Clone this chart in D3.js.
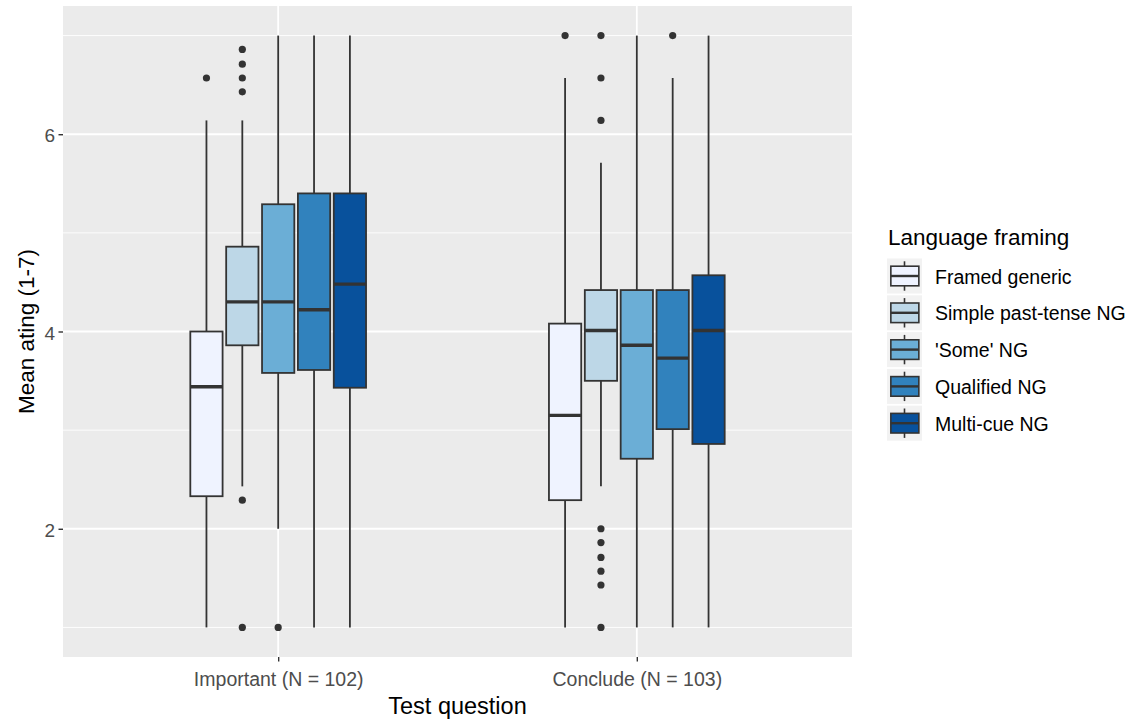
<!DOCTYPE html>
<html>
<head>
<meta charset="utf-8">
<script src="https://cdn.jsdelivr.net/npm/d3@7"></script>
<style>
  html, body { margin: 0; padding: 0; background: #ffffff; }
  svg { display: block; }
  text { font-family: "Liberation Sans", Arial, sans-serif; }
</style>
</head>
<body>
<svg id="chart" width="1136" height="723"></svg>
<script>
// Test questions on the x axis
const questions = ["Important (N = 102)", "Conclude (N = 103)"];
// Language framing conditions (dodged boxes within each question)
const framings = ["Framed generic", "Simple past-tense NG", "'Some' NG", "Qualified NG", "Multi-cue NG"];
const framingColors = ["#EFF3FF", "#BDD7E7", "#6BAED6", "#3182BD", "#08519C"];

// Box summary statistics, [question][framing]
const whiskerLow  = [[1.00, 2.43, 2.00, 1.00, 1.00], [1.00, 2.43, 1.00, 1.00, 1.00]];
const quartile1   = [[2.33, 3.86, 3.58, 3.61, 3.43], [2.29, 3.50, 2.71, 3.01, 2.86]];
const medians     = [[3.44, 4.30, 4.30, 4.22, 4.48], [3.15, 4.01, 3.86, 3.73, 4.01]];
const quartile3   = [[4.00, 4.86, 5.29, 5.40, 5.40], [4.08, 4.42, 4.42, 4.42, 4.57]];
const whiskerHigh = [[6.14, 6.14, 7.00, 7.00, 7.00], [6.57, 5.71, 7.00, 6.57, 7.00]];
const outliers = [
  [[6.57], [6.86, 6.71, 6.57, 6.43, 2.29, 1.00], [1.00], [], []],
  [[7.00], [7.00, 6.57, 6.14, 2.00, 1.86, 1.71, 1.57, 1.43, 1.00], [], [7.00], []]
];

// Axis ticks
const yMajorTicks = [2, 4, 6];
const yMinorTicks = [1, 3, 5, 7];

const svg = d3.select("#chart");
const panel = { left: 63, right: 852, top: 6, bottom: 657 };

const y = d3.scaleLinear().domain([0.7, 7.3]).range([panel.bottom, panel.top]);
const x = d3.scalePoint().domain(questions).range([panel.left, panel.right]).padding(0.6);
const step = x.step();
const dodge = d3.scaleBand().domain(framings)
  .range([-0.25 * step, 0.25 * step]).paddingInner(0.1).paddingOuter(0.05);

const ink = "#333333";
const font = "'Liberation Sans', Arial, sans-serif";

// Panel background
svg.append("rect")
  .attr("x", panel.left).attr("y", panel.top)
  .attr("width", panel.right - panel.left).attr("height", panel.bottom - panel.top)
  .attr("fill", "#EBEBEB");

// Grid lines
const grid = svg.append("g");
grid.selectAll("line.minor").data(yMinorTicks).join("line")
  .attr("x1", panel.left).attr("x2", panel.right)
  .attr("y1", d => y(d)).attr("y2", d => y(d))
  .attr("stroke", "#ffffff").attr("stroke-width", 0.9);
grid.selectAll("line.major").data(yMajorTicks).join("line")
  .attr("x1", panel.left).attr("x2", panel.right)
  .attr("y1", d => y(d)).attr("y2", d => y(d))
  .attr("stroke", "#ffffff").attr("stroke-width", 1.8);
grid.selectAll("line.vmajor").data(questions).join("line")
  .attr("x1", d => x(d)).attr("x2", d => x(d))
  .attr("y1", panel.top).attr("y2", panel.bottom)
  .attr("stroke", "#ffffff").attr("stroke-width", 1.8);

// Boxplots
const boxes = [];
questions.forEach((q, qi) => {
  framings.forEach((f, fi) => {
    boxes.push({
      q, f, fi,
      lo: whiskerLow[qi][fi], q1: quartile1[qi][fi], med: medians[qi][fi],
      q3: quartile3[qi][fi], hi: whiskerHigh[qi][fi], out: outliers[qi][fi]
    });
  });
});

const bw = dodge.bandwidth();
const bg = svg.append("g");
const groups = bg.selectAll("g.box").data(boxes).join("g")
  .attr("transform", d => `translate(${x(d.q) + dodge(d.f) + bw / 2},0)`);

groups.append("line")
  .attr("x1", 0).attr("x2", 0)
  .attr("y1", d => y(d.q3)).attr("y2", d => y(d.hi))
  .attr("stroke", ink).attr("stroke-width", 1.8);
groups.append("line")
  .attr("x1", 0).attr("x2", 0)
  .attr("y1", d => y(d.q1)).attr("y2", d => y(d.lo))
  .attr("stroke", ink).attr("stroke-width", 1.8);
groups.append("rect")
  .attr("x", -bw / 2).attr("width", bw)
  .attr("y", d => y(d.q3)).attr("height", d => y(d.q1) - y(d.q3))
  .attr("fill", d => framingColors[d.fi])
  .attr("stroke", ink).attr("stroke-width", 1.8);
groups.append("line")
  .attr("x1", -bw / 2).attr("x2", bw / 2)
  .attr("y1", d => y(d.med)).attr("y2", d => y(d.med))
  .attr("stroke", ink).attr("stroke-width", 3.4);
groups.selectAll("circle").data(d => d.out).join("circle")
  .attr("cx", 0).attr("cy", d => y(d)).attr("r", 3.6)
  .attr("fill", ink);

// Axes
const axisLeft = d3.axisLeft(y).tickValues(yMajorTicks).tickSize(4.5).tickPadding(3.5)
  .tickFormat(d3.format("d"));
const gy = svg.append("g").attr("transform", `translate(${panel.left},0)`).call(axisLeft);
gy.select(".domain").remove();
gy.selectAll(".tick line").attr("stroke", ink).attr("stroke-width", 1.4);
gy.selectAll(".tick text").attr("fill", "#4D4D4D").attr("font-size", 19)
  .attr("font-family", font).attr("dy", "0.4em");

const axisBottom = d3.axisBottom(x).tickSize(4.5).tickPadding(11);
const gx = svg.append("g").attr("transform", `translate(0,${panel.bottom})`).call(axisBottom);
gx.select(".domain").remove();
gx.selectAll(".tick line").attr("stroke", ink).attr("stroke-width", 1.4);
gx.selectAll(".tick text").attr("fill", "#4D4D4D").attr("font-size", 19.5)
  .attr("font-family", font);

// Axis titles
svg.append("text")
  .attr("x", (panel.left + panel.right) / 2).attr("y", 714)
  .attr("text-anchor", "middle").attr("font-size", 23.5).attr("fill", "#000")
  .text("Test question");
svg.append("text")
  .attr("transform", `translate(34,${(panel.top + panel.bottom) / 2}) rotate(-90)`)
  .attr("text-anchor", "middle").attr("font-size", 22.5).attr("fill", "#000")
  .text("Mean ating (1-7)");

// Legend
const legend = svg.append("g").attr("transform", "translate(887,0)");
legend.append("text").attr("x", 1).attr("y", 245)
  .attr("font-size", 22.5).attr("fill", "#000").text("Language framing");

const keySize = 35;
const keyStep = 36.8;
const keyTop = 258.5;
const keys = legend.selectAll("g.key").data(framings).join("g")
  .attr("transform", (d, i) => `translate(0,${keyTop + i * keyStep})`);
keys.append("rect").attr("width", keySize).attr("height", keySize).attr("fill", "#F2F2F2");
keys.append("line")
  .attr("x1", keySize / 2).attr("x2", keySize / 2)
  .attr("y1", keySize * 0.08).attr("y2", keySize * 0.92)
  .attr("stroke", ink).attr("stroke-width", 1.6);
keys.append("rect")
  .attr("x", keySize * 0.11).attr("width", keySize * 0.8)
  .attr("y", keySize * 0.22).attr("height", keySize * 0.56)
  .attr("fill", (d, i) => framingColors[i])
  .attr("stroke", ink).attr("stroke-width", 1.6);
keys.append("line")
  .attr("x1", keySize * 0.11).attr("x2", keySize * 0.91)
  .attr("y1", keySize / 2).attr("y2", keySize / 2)
  .attr("stroke", ink).attr("stroke-width", 2.4);
keys.append("text")
  .attr("x", 48).attr("y", keySize / 2 + 7.5)
  .attr("font-size", 19.5).attr("fill", "#000")
  .text(d => d);
</script>
</body>
</html>
